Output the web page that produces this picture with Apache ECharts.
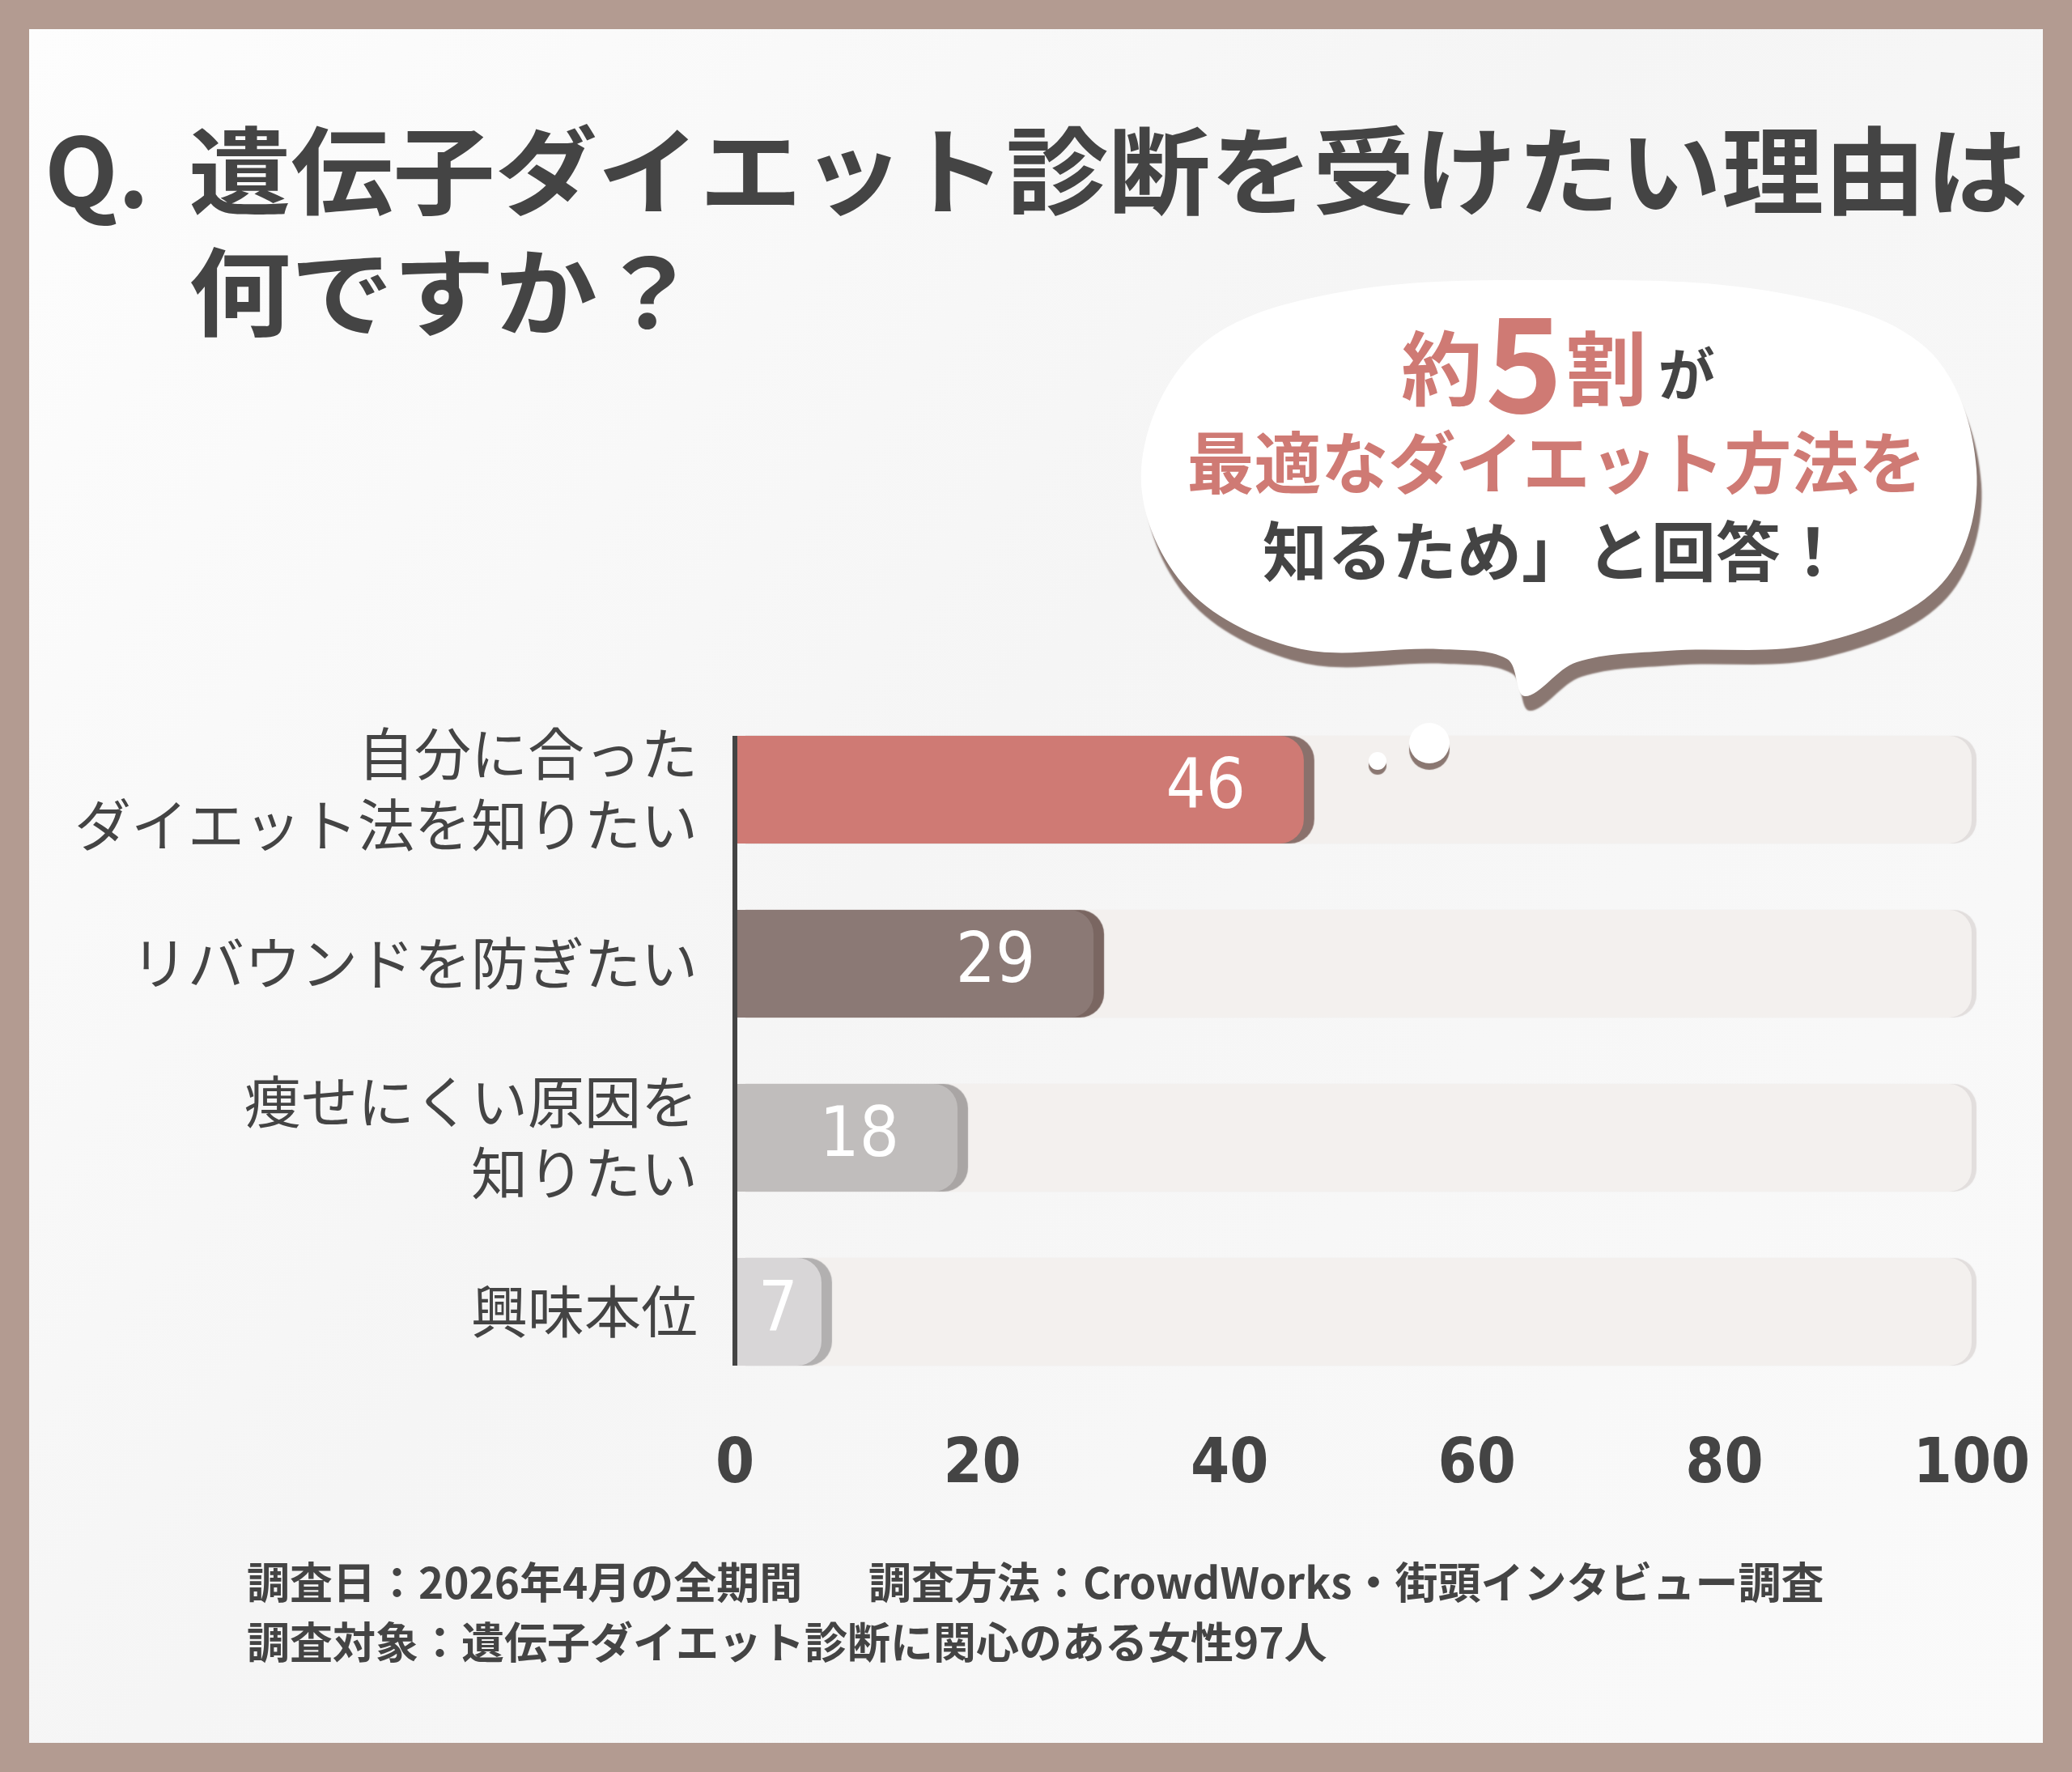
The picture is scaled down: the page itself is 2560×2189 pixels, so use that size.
<!DOCTYPE html>
<html>
<head>
<meta charset="utf-8">
<script src="https://cdn.jsdelivr.net/npm/echarts@6/dist/echarts.min.js"></script>
<style>
  html, body { margin: 0; padding: 0; background: #b39b91; }
  #main { width: 2560px; height: 2189px; }
</style>
</head>
<body>
<div id="main"></div>
<script>
// 回答データ
const categories = ['自分に合った\nダイエット法を知りたい', 'リバウンドを防ぎたい', '痩せにくい原因を\n知りたい', '興味本位'];
const values = [46, 29, 18, 7];
const xTicks = [0, 20, 40, 60, 80, 100];

const barColors = ['#cf7a74', '#8b7975', '#c0bdbc', '#d8d6d7'];
const rimColors = ['#8a716c', '#7a6661', '#a9a5a4', '#b2b0b0'];
const JP = "'Noto Sans CJK JP', sans-serif";
const NUM = "'Liberation Sans Narrow', 'DejaVu Sans Condensed', 'Noto Sans', sans-serif";
const BAR_H = 133;

var myChart = echarts.init(document.getElementById('main'));

function decorations(extra) {
	let g = [
		// 枠の内側
		{
			type: 'rect', z: -10, silent: true,
			shape: { x: 36, y: 36, width: 2488, height: 2117 },
			style: {
				fill: {
					type: 'linear', x: 0, y: 0, x2: 1, y2: 1,
					colorStops: [
						{ offset: 0, color: '#fdfdfd' },
						{ offset: 0.45, color: '#f5f5f5' },
						{ offset: 1, color: '#fafafa' }
					]
				}
			}
		},
		// タイトル
		{
			type: 'text', x: 55, y: 152,
			style: { text: 'Q.', font: 'bold 118px ' + JP, fill: '#444' }
		},
		{
			type: 'text', x: 233, y: 152, scaleX: 1.07,
			style: { text: '遺伝子ダイエット診断を受けたい理由は', font: 'bold 118px ' + JP, fill: '#444' }
		},
		{
			type: 'text', x: 233, y: 302, scaleX: 1.07,
			style: { text: '何ですか？', font: 'bold 118px ' + JP, fill: '#444' }
		},
		// 吹き出し
		{
			type: 'polygon', z: 5,
			shape: {
				smooth: 0.35,
				points: [
					[1410, 580], [1480, 430], [1650, 362], [1925, 346], [2200, 362], [2380, 430],
					[2442, 580], [2400, 720], [2250, 794], [2060, 804], [1948, 818], [1884, 860],
					[1862, 814], [1780, 802], [1600, 800], [1462, 722]
				]
			},
			style: { fill: '#ffffff', shadowColor: '#8a7771', shadowOffsetY: 18, shadowOffsetX: 6, shadowBlur: 2 }
		},
		{
			type: 'circle', z: 5,
			shape: { cx: 1766, cy: 918, r: 25 },
			style: { fill: '#ffffff', shadowColor: '#8a7771', shadowOffsetY: 8, shadowBlur: 1 }
		},
		{
			type: 'circle', z: 5,
			shape: { cx: 1702, cy: 940, r: 11 },
			style: { fill: '#ffffff', shadowColor: '#8a7771', shadowOffsetY: 6, shadowBlur: 1 }
		},
		{
			type: 'text', z: 6, x: 1925, y: 455,
			style: {
				text: '{a|約}{b|5}{a|割}{c|が}',
				align: 'center', verticalAlign: 'middle',
				rich: {
					a: { font: 'bold 100px ' + JP, fill: '#cf7a74' },
					b: { font: 'bold 162px ' + JP, fill: '#cf7a74', padding: [0, 4, 14, 4] },
					c: { font: 'bold 70px ' + JP, fill: '#444', padding: [14, 0, 0, 14] }
				}
			}
		},
		{
			type: 'text', z: 6, x: 1923, y: 571,
			style: { text: '最適なダイエット方法を', font: 'bold 83px ' + JP, fill: '#cf7a74', align: 'center', verticalAlign: 'middle' }
		},
		{
			type: 'text', z: 6, x: 1920, y: 681,
			style: { text: '知るため」と回答！', font: 'bold 80px ' + JP, fill: '#444', align: 'center', verticalAlign: 'middle' }
		},
		// 調査概要
		{
			type: 'text', x: 305, y: 1928,
			style: { text: '調査日：2026年4月の全期間', font: 'bold 53px ' + JP, fill: '#444' }
		},
		{
			type: 'text', x: 1073, y: 1928,
			style: { text: '調査方法：CrowdWorks・街頭インタビュー調査', font: 'bold 53px ' + JP, fill: '#444' }
		},
		{
			type: 'text', x: 305, y: 2002,
			style: { text: '調査対象：遺伝子ダイエット診断に関心のある女性97人', font: 'bold 53px ' + JP, fill: '#444' }
		}
	];
	return g.concat(extra || []);
}

let option = {
	backgroundColor: '#b39b91',
	animation: false,
	grid: {
		left: 908,
		right: 124,
		top: 868,
		bottom: 461
	},
	xAxis: {
		type: 'value',
		min: 0,
		max: 100,
		interval: 20,
		splitLine: { show: false },
		axisLine: { show: false },
		axisTick: { show: false },
		axisLabel: {
			margin: 44,
			color: '#444',
			fontSize: 77,
			fontWeight: 'bold',
			fontFamily: NUM,
			customValues: xTicks
		}
	},
	yAxis: {
		type: 'category',
		inverse: true,
		data: categories,
		axisLine: { show: false },
		axisTick: { show: false },
		axisLabel: {
			margin: 46,
			color: '#444',
			fontSize: 70,
			lineHeight: 88,
			fontFamily: JP,
			align: 'right'
		}
	},
	series: [{
		type: 'bar',
		barWidth: BAR_H,
		z: 3,
		showBackground: true,
		backgroundStyle: {
			color: '#f3f0ee',
			borderRadius: [0, 28, 28, 0],
			shadowColor: '#e2dedd',
			shadowOffsetX: 6,
			shadowBlur: 1
		},
		data: values.map((v, i) => ({
			value: v,
			itemStyle: {
				color: barColors[i],
				borderRadius: [0, 30, 30, 0],
				shadowColor: rimColors[i],
				shadowOffsetX: 13,
				shadowBlur: 1
			},
			label: i === values.length - 1 ? { position: 'inside' } : {}
		})),
		label: {
			show: true,
			position: 'insideRight',
			distance: 72,
			color: '#fff',
			fontSize: 86,
			fontFamily: NUM
		}
	}],
	graphic: decorations()
};

myChart.setOption(option);

// 縦軸の線は棒の範囲だけに引く
let first = myChart.convertToPixel({ gridIndex: 0 }, [0, categories[0]]);
let last = myChart.convertToPixel({ gridIndex: 0 }, [0, categories[categories.length - 1]]);
myChart.setOption({
	graphic: decorations([{
		type: 'rect', z: 10,
		shape: { x: first[0] - 3, y: first[1] - BAR_H / 2, width: 6, height: last[1] - first[1] + BAR_H },
		style: { fill: '#444' }
	}])
});
</script>
</body>
</html>
